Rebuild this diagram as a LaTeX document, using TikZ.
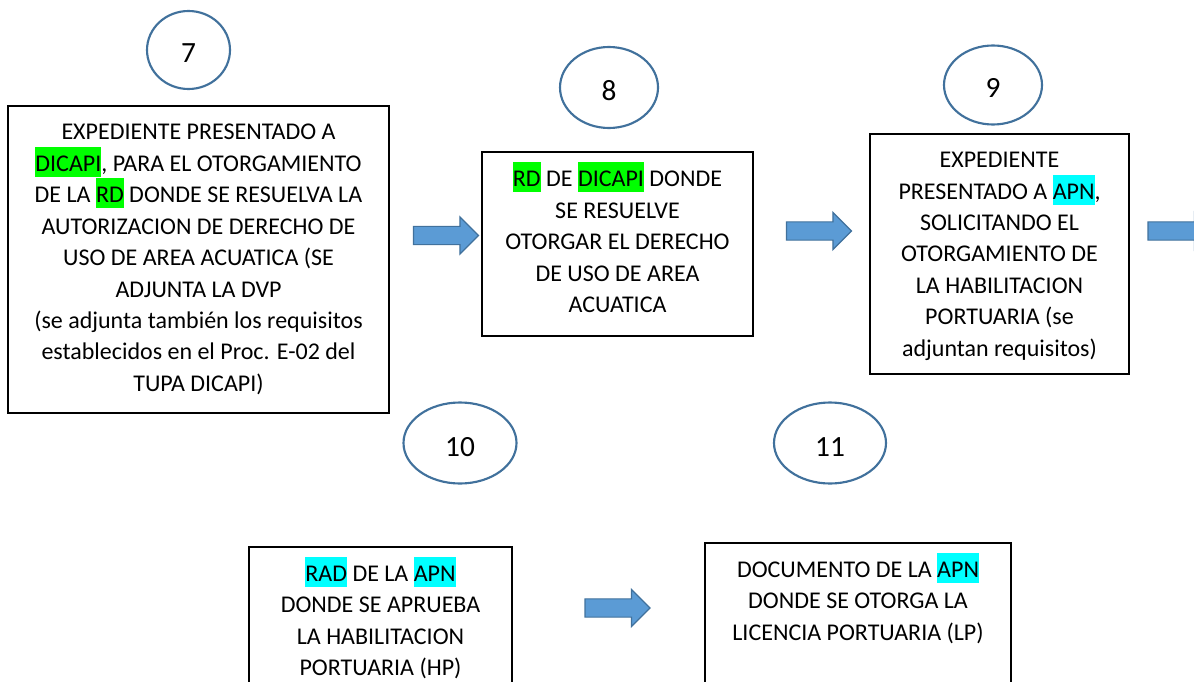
\documentclass[tikz,border=0pt]{standalone}
\usepackage{fontspec}
\setmainfont{Carlito}
\usetikzlibrary{positioning,shapes.geometric,shapes.arrows}

\definecolor{ringblue}{HTML}{41719C}
\definecolor{arrowblue}{HTML}{5B9BD5}
\definecolor{hlgreen}{HTML}{00FF00}
\definecolor{hlcyan}{HTML}{00FFFF}

\newcommand{\hlmark}[2]{{\setlength{\fboxsep}{0pt}\colorbox{#1}{\rule[-0.24em]{0pt}{1.25em}#2}}}

\tikzset{
  stepbox/.style={draw, line width=1.2pt, rectangle, inner sep=0pt},
  boxtext/.style={align=center, inner sep=0pt, font=\fontsize{18}{23.6}\selectfont},
  stepnum/.style={draw=ringblue, line width=1.6pt, ellipse, inner sep=0pt,
    text height=19.5pt, text depth=0pt, font=\fontsize{22}{26}\selectfont},
  blockarrow/.style={single arrow, draw=ringblue, fill=arrowblue, line width=0.9pt,
    inner xsep=0pt, inner ysep=6.4pt, single arrow head extend=7.1pt, minimum height=48.75pt}
}

\begin{document}
\begin{tikzpicture}[x=0.75pt, y=-0.75pt]
  \useasboundingbox (0,0) rectangle (1194,681);
  \clip (0,0) rectangle (1194,681);

  % Numbers
  \node [stepnum, minimum width=62.25pt, minimum height=58.5pt] (n7) at (188.5,50) {7};
  \node [stepnum, minimum width=73.5pt, minimum height=60.75pt] (n8) at (609,87.5) {8};
  \node [stepnum, minimum width=73.5pt, minimum height=59.25pt] (n9) at (993,85) {9};
  \node [stepnum, minimum width=84.75pt, minimum height=60.75pt] (n10) at (460,443) {10};
  \node [stepnum, minimum width=84pt, minimum height=60.75pt] (n11) at (830,443) {11};

  % Boxes
  \node [stepbox, minimum width=285.75pt, minimum height=230.25pt] (b7) at (198.5,259.5) {};
  \node [stepbox, minimum width=203.25pt, minimum height=138pt] (b8) at (617.5,244) {};
  \node [stepbox, minimum width=194.25pt, minimum height=180pt] (b9) at (999.5,254) {};
  \node [stepbox, minimum width=197.25pt, minimum height=130pt, anchor=north] (b10) at (380.5,546) {};
  \node [stepbox, minimum width=229.5pt, minimum height=135pt, anchor=north] (b11) at (858,542) {};

  % Texts
  \node [boxtext, below=14pt of b7.north] (t7) {EXPEDIENTE PRESENTADO A\\
    \hlmark{hlgreen}{DICAPI}, PARA EL OTORGAMIENTO\\
    DE LA \hlmark{hlgreen}{RD} DONDE SE RESUELVA LA\\
    AUTORIZACION DE DERECHO DE\\
    USO DE AREA ACUATICA (SE\\
    ADJUNTA LA DVP\\
    (se adjunta también los requisitos\\
    establecidos en el Proc. E-02 del\\
    TUPA DICAPI)};
  \node [boxtext, below=8.25pt of b8.north] (t8) {\hlmark{hlgreen}{RD} DE \hlmark{hlgreen}{DICAPI} DONDE\\
    SE RESUELVE\\
    OTORGAR EL DERECHO\\
    DE USO DE AREA\\
    ACUATICA};
  \node [boxtext, below=14pt of b9.north] (t9) {EXPEDIENTE\\
    PRESENTADO A \hlmark{hlcyan}{APN},\\
    SOLICITANDO EL\\
    OTORGAMIENTO DE\\
    LA HABILITACION\\
    PORTUARIA (se\\
    adjuntan requisitos)};
  \node [boxtext, below=8.25pt of b10.north] (t10) {\hlmark{hlcyan}{RAD} DE LA \hlmark{hlcyan}{APN}\\
    DONDE SE APRUEBA\\
    LA HABILITACION\\
    PORTUARIA (HP)};
  \node [boxtext, below=8.25pt of b11.north] (t11) {DOCUMENTO DE LA \hlmark{hlcyan}{APN}\\
    DONDE SE OTORGA LA\\
    LICENCIA PORTUARIA (LP)};

  % Arrows
  \node [blockarrow] (a78) at (441.5,235.5) {};
  \node [blockarrow] (a89) at (814.5,231) {};
  \node [blockarrow] (a9x) at (1176,231) {};
  \node [blockarrow] (a1011) at (613,608) {};
\end{tikzpicture}
\end{document}
